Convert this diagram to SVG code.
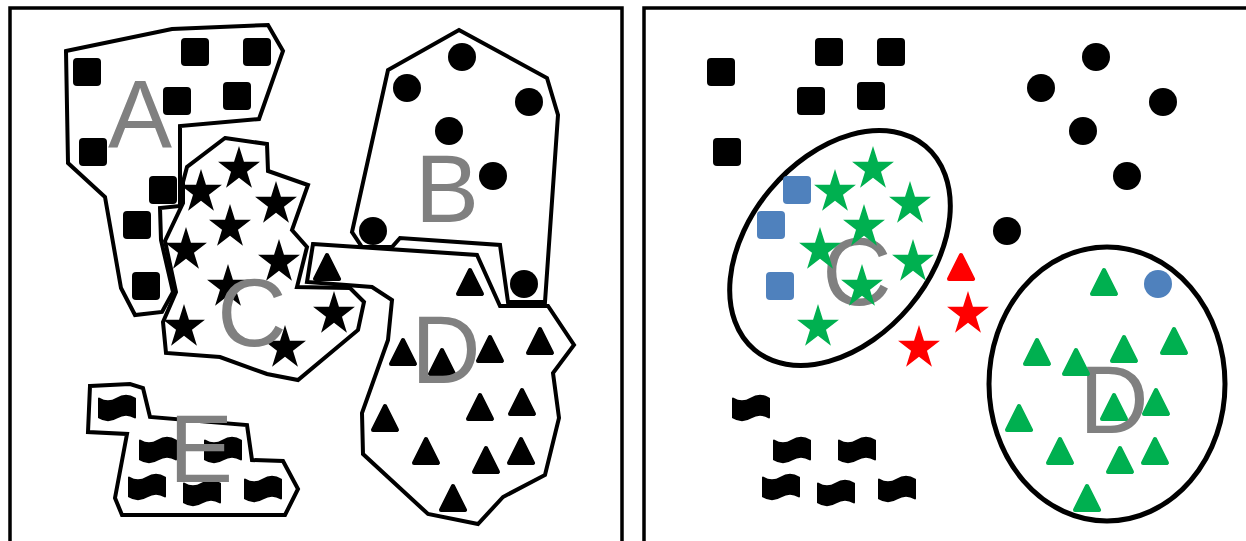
<svg xmlns="http://www.w3.org/2000/svg" xmlns:xlink="http://www.w3.org/1999/xlink" width="1246" height="541" viewBox="0 0 1246 541">
<style>
.frame{fill:none;stroke:#000;stroke-width:3.5}
.poly{fill:none;stroke:#000;stroke-width:4;stroke-linejoin:miter}
.ell{fill:none;stroke:#000;stroke-width:5}
.lbl{font-family:"Liberation Sans",Arial,sans-serif;font-size:96px;fill:#808080;text-anchor:middle}
.k{fill:#000;stroke:#000}
.g{fill:#00B050;stroke:#00B050}
.b{fill:#4F81BD;stroke:#4F81BD}
.r{fill:#FF0000;stroke:#FF0000}
</style>
<defs>
<rect id="sq" x="-14" y="-14" width="28" height="28" rx="4" stroke="none"/>
<circle id="ci" r="14" stroke="none"/>
<path id="st" stroke="none" d="M0,-23.1 L4.94,-7.14 L20.92,-7.14 L7.99,2.73 L12.93,18.69 L0,8.82 L-12.93,18.69 L-7.99,2.73 L-20.92,-7.14 L-4.94,-7.14 Z"/>
<path id="tr" stroke-width="4" stroke-linejoin="round" d="M0,2 L12,26 L-12,26 Z"/>
<path id="wv" stroke-width="2" stroke-linejoin="round" d="M-18,-9.5 Q-9,-4 0,-9.5 Q9,-15 18,-9.5 L18,9.5 Q9,4 0,9.5 Q-9,15 -18,9.5 Z"/>
</defs>

<g id="frames">
<path class="frame" d="M10,545 V8 H622 V545"/>
<path class="frame" d="M644,545 V8 H1250"/>
</g>

<!-- LEFT PANEL -->
<g id="left-A">
<polygon class="poly" points="66,51 172,29 268,25 283,51 259,119 180,126 180,206 160,208 161,240 173,292 162,312 135,315 121,288 105,197 68,163"/>
<use href="#sq" class="k" x="87" y="72"/>
<use href="#sq" class="k" x="195" y="52"/>
<use href="#sq" class="k" x="257" y="52"/>
<use href="#sq" class="k" x="177" y="101"/>
<use href="#sq" class="k" x="237" y="96"/>
<use href="#sq" class="k" x="93" y="152"/>
<use href="#sq" class="k" x="163" y="190"/>
<use href="#sq" class="k" x="137" y="225"/>
<use href="#sq" class="k" x="146" y="286"/>
<text class="lbl" x="140" y="147">A</text>
</g>

<g id="left-B">
<polygon class="poly" points="459,30 547,78 558,115 545,302 508,302 500,245 400,238 392,247 362,247 352,232 388,70"/>
<use href="#ci" class="k" x="462" y="57"/>
<use href="#ci" class="k" x="407" y="88"/>
<use href="#ci" class="k" x="529" y="102"/>
<use href="#ci" class="k" x="449" y="131"/>
<use href="#ci" class="k" x="493" y="176"/>
<use href="#ci" class="k" x="373" y="231"/>
<use href="#ci" class="k" x="524" y="284"/>
<text class="lbl" x="447" y="222">B</text>
</g>

<g id="left-C">
<polygon class="poly" points="225,138 267,144 268,171 308,185 292,230 307,247 297,287 350,288 364,302 358,330 298,380 267,374 220,357 166,353 163,322 176,292 165,241 183,203 183,182 187,167"/>
<use href="#st" class="k" x="239" y="169"/>
<use href="#st" class="k" x="201" y="192"/>
<use href="#st" class="k" x="276" y="204"/>
<use href="#st" class="k" x="230" y="227"/>
<use href="#st" class="k" x="186" y="250"/>
<use href="#st" class="k" x="279" y="262"/>
<use href="#st" class="k" x="228" y="287"/>
<use href="#st" class="k" x="184" y="327"/>
<use href="#st" class="k" x="334" y="314"/>
<use href="#st" class="k" x="285" y="348"/>
<text class="lbl" x="252" y="346">C</text>
</g>

<g id="left-D">
<polygon class="poly" points="313,244 477,255 500,306 548,306 574,345 553,373 559,418 545,475 503,497 478,524 428,514 363,454 362,413 388,340 392,300 372,287 307,282"/>
<use href="#tr" class="k" x="327" y="253"/>
<use href="#tr" class="k" x="470" y="268"/>
<use href="#tr" class="k" x="403" y="338"/>
<use href="#tr" class="k" x="442" y="348"/>
<use href="#tr" class="k" x="490" y="335"/>
<use href="#tr" class="k" x="540" y="327"/>
<use href="#tr" class="k" x="385" y="404"/>
<use href="#tr" class="k" x="480" y="393"/>
<use href="#tr" class="k" x="522" y="388"/>
<use href="#tr" class="k" x="426" y="437"/>
<use href="#tr" class="k" x="486" y="446"/>
<use href="#tr" class="k" x="521" y="437"/>
<use href="#tr" class="k" x="453" y="484"/>
<text class="lbl" x="446" y="383">D</text>
</g>

<g id="left-E">
<polygon class="poly" points="90,386 130,384 143,388 150,417 247,425 252,460 283,461 298,489 285,515 122,515 115,498 127,434 88,432"/>
<use href="#wv" class="k" x="117" y="408"/>
<use href="#wv" class="k" x="158" y="450"/>
<use href="#wv" class="k" x="223" y="450"/>
<use href="#wv" class="k" x="147" y="487"/>
<use href="#wv" class="k" x="202" y="493"/>
<use href="#wv" class="k" x="263" y="489"/>
<text class="lbl" x="201" y="482">E</text>
</g>

<!-- RIGHT PANEL -->
<g id="right-squares">
<use href="#sq" class="k" x="721" y="72"/>
<use href="#sq" class="k" x="829" y="52"/>
<use href="#sq" class="k" x="891" y="52"/>
<use href="#sq" class="k" x="811" y="101"/>
<use href="#sq" class="k" x="871" y="96"/>
<use href="#sq" class="k" x="727" y="152"/>
</g>

<g id="right-circles">
<use href="#ci" class="k" x="1096" y="57"/>
<use href="#ci" class="k" x="1041" y="88"/>
<use href="#ci" class="k" x="1163" y="102"/>
<use href="#ci" class="k" x="1083" y="131"/>
<use href="#ci" class="k" x="1127" y="176"/>
<use href="#ci" class="k" x="1007" y="231"/>
</g>

<g id="right-C">
<ellipse class="ell" cx="840" cy="248" rx="133" ry="91" transform="rotate(-50 840 248)"/>
<text class="lbl" x="857" y="305">C</text>
<use href="#sq" class="b" x="797" y="190"/>
<use href="#sq" class="b" x="771" y="225"/>
<use href="#sq" class="b" x="780" y="286"/>
<use href="#st" class="g" x="873" y="169"/>
<use href="#st" class="g" x="835" y="192"/>
<use href="#st" class="g" x="910" y="204"/>
<use href="#st" class="g" x="864" y="227"/>
<use href="#st" class="g" x="820" y="250"/>
<use href="#st" class="g" x="913" y="262"/>
<use href="#st" class="g" x="862" y="287"/>
<use href="#st" class="g" x="818" y="327"/>
</g>

<g id="right-outliers">
<use href="#tr" class="r" x="961" y="253"/>
<use href="#st" class="r" x="968" y="314"/>
<use href="#st" class="r" x="919" y="348"/>
</g>

<g id="right-D">
<ellipse class="ell" cx="1107" cy="384" rx="118" ry="137"/>
<text class="lbl" x="1114" y="433">D</text>
<use href="#ci" class="b" x="1158" y="284"/>
<use href="#tr" class="g" x="1104" y="268"/>
<use href="#tr" class="g" x="1037" y="338"/>
<use href="#tr" class="g" x="1076" y="348"/>
<use href="#tr" class="g" x="1124" y="335"/>
<use href="#tr" class="g" x="1174" y="327"/>
<use href="#tr" class="g" x="1019" y="404"/>
<use href="#tr" class="g" x="1114" y="393"/>
<use href="#tr" class="g" x="1156" y="388"/>
<use href="#tr" class="g" x="1060" y="437"/>
<use href="#tr" class="g" x="1120" y="446"/>
<use href="#tr" class="g" x="1155" y="437"/>
<use href="#tr" class="g" x="1087" y="484"/>
</g>

<g id="right-waves">
<use href="#wv" class="k" x="751" y="408"/>
<use href="#wv" class="k" x="792" y="450"/>
<use href="#wv" class="k" x="857" y="450"/>
<use href="#wv" class="k" x="781" y="487"/>
<use href="#wv" class="k" x="836" y="493"/>
<use href="#wv" class="k" x="897" y="489"/>
</g>
</svg>
